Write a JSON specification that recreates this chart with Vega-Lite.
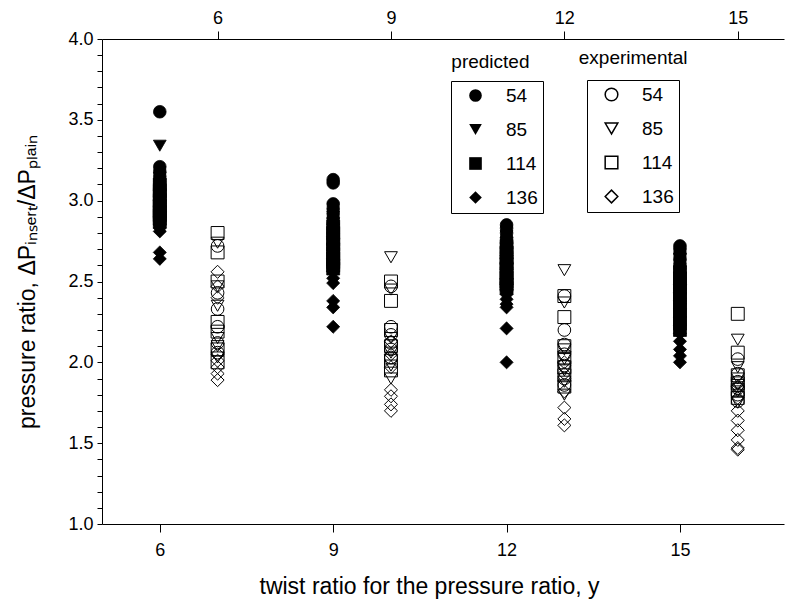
{
  "$schema": "https://vega.github.io/schema/vega-lite/v6.json",
  "autosize": "none",
  "width": 682,
  "height": 485,
  "padding": {"left": 102, "top": 39, "right": 3, "bottom": 80},
  "config": {
    "view": {"stroke": null},
    "font": "Liberation Sans",
    "axis": {"grid": false, "domainColor": "black", "tickColor": "black", "labelColor": "black", "titleColor": "black", "labelFont": "Liberation Sans", "titleFont": "Liberation Sans", "titleFontWeight": "normal", "labelFontSize": 18, "titleFontSize": 23, "domainWidth": 1, "tickWidth": 1},
    "legend": {"labelFont": "Liberation Sans", "labelFontSize": 19, "labelColor": "black"}
  },
  "datasets": {"pts": [
    {"p":6,"k":"pred","D":"54","v":3.55},{"p":6,"k":"pred","D":"54","v":3.21},{"p":6,"k":"pred","D":"54","v":3.18},{"p":6,"k":"pred","D":"54","v":3.15},{"p":6,"k":"pred","D":"54","v":3.12},{"p":6,"k":"pred","D":"54","v":3.10},{"p":6,"k":"pred","D":"54","v":3.08},{"p":6,"k":"pred","D":"54","v":3.06},{"p":6,"k":"pred","D":"54","v":3.04},{"p":6,"k":"pred","D":"54","v":3.02},
    {"p":6,"k":"pred","D":"85","v":3.34},{"p":6,"k":"pred","D":"85","v":3.14},{"p":6,"k":"pred","D":"85","v":3.10},{"p":6,"k":"pred","D":"85","v":3.07},{"p":6,"k":"pred","D":"85","v":3.04},{"p":6,"k":"pred","D":"85","v":3.01},{"p":6,"k":"pred","D":"85","v":2.99},{"p":6,"k":"pred","D":"85","v":2.97},{"p":6,"k":"pred","D":"85","v":2.95},{"p":6,"k":"pred","D":"85","v":2.93},
    {"p":6,"k":"pred","D":"114","v":3.10},{"p":6,"k":"pred","D":"114","v":3.06},{"p":6,"k":"pred","D":"114","v":3.03},{"p":6,"k":"pred","D":"114","v":3.00},{"p":6,"k":"pred","D":"114","v":2.97},{"p":6,"k":"pred","D":"114","v":2.95},{"p":6,"k":"pred","D":"114","v":2.93},{"p":6,"k":"pred","D":"114","v":2.91},{"p":6,"k":"pred","D":"114","v":2.89},{"p":6,"k":"pred","D":"114","v":2.87},
    {"p":6,"k":"pred","D":"136","v":3.00},{"p":6,"k":"pred","D":"136","v":2.96},{"p":6,"k":"pred","D":"136","v":2.93},{"p":6,"k":"pred","D":"136","v":2.90},{"p":6,"k":"pred","D":"136","v":2.88},{"p":6,"k":"pred","D":"136","v":2.85},{"p":6,"k":"pred","D":"136","v":2.83},{"p":6,"k":"pred","D":"136","v":2.81},{"p":6,"k":"pred","D":"136","v":2.68},{"p":6,"k":"pred","D":"136","v":2.64},
    {"p":7,"k":"exp","D":"54","v":2.72},{"p":7,"k":"exp","D":"54","v":2.43},{"p":7,"k":"exp","D":"54","v":2.33},{"p":7,"k":"exp","D":"54","v":2.22},{"p":7,"k":"exp","D":"54","v":2.12},{"p":7,"k":"exp","D":"54","v":2.06},
    {"p":7,"k":"exp","D":"85","v":2.74},{"p":7,"k":"exp","D":"85","v":2.47},{"p":7,"k":"exp","D":"85","v":2.35},{"p":7,"k":"exp","D":"85","v":2.15},{"p":7,"k":"exp","D":"85","v":2.10},{"p":7,"k":"exp","D":"85","v":2.03},
    {"p":7,"k":"exp","D":"114","v":2.80},{"p":7,"k":"exp","D":"114","v":2.68},{"p":7,"k":"exp","D":"114","v":2.50},{"p":7,"k":"exp","D":"114","v":2.25},{"p":7,"k":"exp","D":"114","v":2.19},{"p":7,"k":"exp","D":"114","v":2.08},{"p":7,"k":"exp","D":"114","v":2.00},
    {"p":7,"k":"exp","D":"136","v":2.56},{"p":7,"k":"exp","D":"136","v":2.47},{"p":7,"k":"exp","D":"136","v":2.40},{"p":7,"k":"exp","D":"136","v":2.05},{"p":7,"k":"exp","D":"136","v":2.01},{"p":7,"k":"exp","D":"136","v":1.97},{"p":7,"k":"exp","D":"136","v":1.93},{"p":7,"k":"exp","D":"136","v":1.89},
    {"p":9,"k":"pred","D":"54","v":3.13},{"p":9,"k":"pred","D":"54","v":3.11},{"p":9,"k":"pred","D":"54","v":2.98},{"p":9,"k":"pred","D":"54","v":2.95},{"p":9,"k":"pred","D":"54","v":2.92},{"p":9,"k":"pred","D":"54","v":2.89},{"p":9,"k":"pred","D":"54","v":2.86},{"p":9,"k":"pred","D":"54","v":2.83},{"p":9,"k":"pred","D":"54","v":2.80},{"p":9,"k":"pred","D":"54","v":2.77},
    {"p":9,"k":"pred","D":"85","v":2.90},{"p":9,"k":"pred","D":"85","v":2.86},{"p":9,"k":"pred","D":"85","v":2.82},{"p":9,"k":"pred","D":"85","v":2.79},{"p":9,"k":"pred","D":"85","v":2.76},{"p":9,"k":"pred","D":"85","v":2.73},{"p":9,"k":"pred","D":"85","v":2.70},{"p":9,"k":"pred","D":"85","v":2.68},{"p":9,"k":"pred","D":"85","v":2.66},{"p":9,"k":"pred","D":"85","v":2.64},
    {"p":9,"k":"pred","D":"114","v":2.84},{"p":9,"k":"pred","D":"114","v":2.80},{"p":9,"k":"pred","D":"114","v":2.76},{"p":9,"k":"pred","D":"114","v":2.73},{"p":9,"k":"pred","D":"114","v":2.70},{"p":9,"k":"pred","D":"114","v":2.67},{"p":9,"k":"pred","D":"114","v":2.64},{"p":9,"k":"pred","D":"114","v":2.62},{"p":9,"k":"pred","D":"114","v":2.60},{"p":9,"k":"pred","D":"114","v":2.58},
    {"p":9,"k":"pred","D":"136","v":2.78},{"p":9,"k":"pred","D":"136","v":2.73},{"p":9,"k":"pred","D":"136","v":2.68},{"p":9,"k":"pred","D":"136","v":2.64},{"p":9,"k":"pred","D":"136","v":2.60},{"p":9,"k":"pred","D":"136","v":2.56},{"p":9,"k":"pred","D":"136","v":2.52},{"p":9,"k":"pred","D":"136","v":2.49},{"p":9,"k":"pred","D":"136","v":2.38},{"p":9,"k":"pred","D":"136","v":2.34},{"p":9,"k":"pred","D":"136","v":2.22},
    {"p":10,"k":"exp","D":"54","v":2.47},{"p":10,"k":"exp","D":"54","v":2.22},{"p":10,"k":"exp","D":"54","v":2.17},{"p":10,"k":"exp","D":"54","v":2.12},{"p":10,"k":"exp","D":"54","v":2.08},{"p":10,"k":"exp","D":"54","v":2.03},
    {"p":10,"k":"exp","D":"85","v":2.65},{"p":10,"k":"exp","D":"85","v":2.45},{"p":10,"k":"exp","D":"85","v":2.15},{"p":10,"k":"exp","D":"85","v":2.06},{"p":10,"k":"exp","D":"85","v":1.98},{"p":10,"k":"exp","D":"85","v":1.90},
    {"p":10,"k":"exp","D":"114","v":2.50},{"p":10,"k":"exp","D":"114","v":2.38},{"p":10,"k":"exp","D":"114","v":2.20},{"p":10,"k":"exp","D":"114","v":2.10},{"p":10,"k":"exp","D":"114","v":2.01},{"p":10,"k":"exp","D":"114","v":1.95},
    {"p":10,"k":"exp","D":"136","v":2.13},{"p":10,"k":"exp","D":"136","v":2.05},{"p":10,"k":"exp","D":"136","v":1.97},{"p":10,"k":"exp","D":"136","v":1.83},{"p":10,"k":"exp","D":"136","v":1.79},{"p":10,"k":"exp","D":"136","v":1.74},{"p":10,"k":"exp","D":"136","v":1.70},
    {"p":12,"k":"pred","D":"54","v":2.85},{"p":12,"k":"pred","D":"54","v":2.83},{"p":12,"k":"pred","D":"54","v":2.80},{"p":12,"k":"pred","D":"54","v":2.77},{"p":12,"k":"pred","D":"54","v":2.74},{"p":12,"k":"pred","D":"54","v":2.71},{"p":12,"k":"pred","D":"54","v":2.68},{"p":12,"k":"pred","D":"54","v":2.66},{"p":12,"k":"pred","D":"54","v":2.64},{"p":12,"k":"pred","D":"54","v":2.62},
    {"p":12,"k":"pred","D":"85","v":2.78},{"p":12,"k":"pred","D":"85","v":2.74},{"p":12,"k":"pred","D":"85","v":2.70},{"p":12,"k":"pred","D":"85","v":2.67},{"p":12,"k":"pred","D":"85","v":2.64},{"p":12,"k":"pred","D":"85","v":2.61},{"p":12,"k":"pred","D":"85","v":2.58},{"p":12,"k":"pred","D":"85","v":2.56},{"p":12,"k":"pred","D":"85","v":2.54},{"p":12,"k":"pred","D":"85","v":2.52},
    {"p":12,"k":"pred","D":"114","v":2.72},{"p":12,"k":"pred","D":"114","v":2.68},{"p":12,"k":"pred","D":"114","v":2.64},{"p":12,"k":"pred","D":"114","v":2.61},{"p":12,"k":"pred","D":"114","v":2.58},{"p":12,"k":"pred","D":"114","v":2.55},{"p":12,"k":"pred","D":"114","v":2.52},{"p":12,"k":"pred","D":"114","v":2.50},{"p":12,"k":"pred","D":"114","v":2.48},{"p":12,"k":"pred","D":"114","v":2.46},
    {"p":12,"k":"pred","D":"136","v":2.66},{"p":12,"k":"pred","D":"136","v":2.61},{"p":12,"k":"pred","D":"136","v":2.56},{"p":12,"k":"pred","D":"136","v":2.52},{"p":12,"k":"pred","D":"136","v":2.48},{"p":12,"k":"pred","D":"136","v":2.45},{"p":12,"k":"pred","D":"136","v":2.42},{"p":12,"k":"pred","D":"136","v":2.39},{"p":12,"k":"pred","D":"136","v":2.36},{"p":12,"k":"pred","D":"136","v":2.34},{"p":12,"k":"pred","D":"136","v":2.21},{"p":12,"k":"pred","D":"136","v":2.00},
    {"p":13,"k":"exp","D":"54","v":2.41},{"p":13,"k":"exp","D":"54","v":2.20},{"p":13,"k":"exp","D":"54","v":2.11},{"p":13,"k":"exp","D":"54","v":2.05},{"p":13,"k":"exp","D":"54","v":1.98},{"p":13,"k":"exp","D":"54","v":1.90},{"p":13,"k":"exp","D":"54","v":1.86},
    {"p":13,"k":"exp","D":"85","v":2.57},{"p":13,"k":"exp","D":"85","v":2.37},{"p":13,"k":"exp","D":"85","v":2.08},{"p":13,"k":"exp","D":"85","v":2.02},{"p":13,"k":"exp","D":"85","v":1.95},{"p":13,"k":"exp","D":"85","v":1.88},{"p":13,"k":"exp","D":"85","v":1.80},
    {"p":13,"k":"exp","D":"114","v":2.41},{"p":13,"k":"exp","D":"114","v":2.28},{"p":13,"k":"exp","D":"114","v":2.10},{"p":13,"k":"exp","D":"114","v":2.03},{"p":13,"k":"exp","D":"114","v":1.97},{"p":13,"k":"exp","D":"114","v":1.92},{"p":13,"k":"exp","D":"114","v":1.85},
    {"p":13,"k":"exp","D":"136","v":2.00},{"p":13,"k":"exp","D":"136","v":1.93},{"p":13,"k":"exp","D":"136","v":1.82},{"p":13,"k":"exp","D":"136","v":1.72},{"p":13,"k":"exp","D":"136","v":1.65},{"p":13,"k":"exp","D":"136","v":1.61},
    {"p":15,"k":"pred","D":"54","v":2.72},{"p":15,"k":"pred","D":"54","v":2.70},{"p":15,"k":"pred","D":"54","v":2.67},{"p":15,"k":"pred","D":"54","v":2.64},{"p":15,"k":"pred","D":"54","v":2.61},{"p":15,"k":"pred","D":"54","v":2.58},{"p":15,"k":"pred","D":"54","v":2.55},{"p":15,"k":"pred","D":"54","v":2.52},{"p":15,"k":"pred","D":"54","v":2.49},{"p":15,"k":"pred","D":"54","v":2.46},
    {"p":15,"k":"pred","D":"85","v":2.64},{"p":15,"k":"pred","D":"85","v":2.60},{"p":15,"k":"pred","D":"85","v":2.56},{"p":15,"k":"pred","D":"85","v":2.52},{"p":15,"k":"pred","D":"85","v":2.48},{"p":15,"k":"pred","D":"85","v":2.45},{"p":15,"k":"pred","D":"85","v":2.42},{"p":15,"k":"pred","D":"85","v":2.39},{"p":15,"k":"pred","D":"85","v":2.36},{"p":15,"k":"pred","D":"85","v":2.33},
    {"p":15,"k":"pred","D":"114","v":2.56},{"p":15,"k":"pred","D":"114","v":2.52},{"p":15,"k":"pred","D":"114","v":2.48},{"p":15,"k":"pred","D":"114","v":2.44},{"p":15,"k":"pred","D":"114","v":2.40},{"p":15,"k":"pred","D":"114","v":2.36},{"p":15,"k":"pred","D":"114","v":2.32},{"p":15,"k":"pred","D":"114","v":2.28},{"p":15,"k":"pred","D":"114","v":2.24},{"p":15,"k":"pred","D":"114","v":2.20},
    {"p":15,"k":"pred","D":"136","v":2.48},{"p":15,"k":"pred","D":"136","v":2.43},{"p":15,"k":"pred","D":"136","v":2.38},{"p":15,"k":"pred","D":"136","v":2.33},{"p":15,"k":"pred","D":"136","v":2.28},{"p":15,"k":"pred","D":"136","v":2.23},{"p":15,"k":"pred","D":"136","v":2.18},{"p":15,"k":"pred","D":"136","v":2.13},{"p":15,"k":"pred","D":"136","v":2.08},{"p":15,"k":"pred","D":"136","v":2.04},{"p":15,"k":"pred","D":"136","v":2.00},
    {"p":16,"k":"exp","D":"54","v":2.02},{"p":16,"k":"exp","D":"54","v":1.93},{"p":16,"k":"exp","D":"54","v":1.88},{"p":16,"k":"exp","D":"54","v":1.84},{"p":16,"k":"exp","D":"54","v":1.80},{"p":16,"k":"exp","D":"54","v":1.76},
    {"p":16,"k":"exp","D":"85","v":2.14},{"p":16,"k":"exp","D":"85","v":1.97},{"p":16,"k":"exp","D":"85","v":1.90},{"p":16,"k":"exp","D":"85","v":1.86},{"p":16,"k":"exp","D":"85","v":1.82},{"p":16,"k":"exp","D":"85","v":1.75},
    {"p":16,"k":"exp","D":"114","v":2.30},{"p":16,"k":"exp","D":"114","v":2.06},{"p":16,"k":"exp","D":"114","v":1.92},{"p":16,"k":"exp","D":"114","v":1.87},{"p":16,"k":"exp","D":"114","v":1.83},{"p":16,"k":"exp","D":"114","v":1.78},
    {"p":16,"k":"exp","D":"136","v":1.85},{"p":16,"k":"exp","D":"136","v":1.78},{"p":16,"k":"exp","D":"136","v":1.70},{"p":16,"k":"exp","D":"136","v":1.64},{"p":16,"k":"exp","D":"136","v":1.58},{"p":16,"k":"exp","D":"136","v":1.52},{"p":16,"k":"exp","D":"136","v":1.47},{"p":16,"k":"exp","D":"136","v":1.46}
  ],
  "labels": [{"t": "predicted", "lx": 11.72, "ly": 3.857}, {"t": "experimental", "lx": 14.19, "ly": 3.88}]},
  "resolve": {"scale": {"shape": "independent"}, "legend": {"shape": "independent"}, "axis": {"x": "independent", "y": "independent"}},
  "layer": [
    {
      "data": {"name": "pts"},
      "transform": [{"filter": "datum.k == 'pred'"}],
      "mark": {"type": "point", "filled": true, "color": "black", "opacity": 1, "stroke": "black", "strokeWidth": 0.8},
      "encoding": {
        "x": {"field": "p", "type": "quantitative", "scale": {"domain": [5, 16.8], "nice": false, "zero": false},
              "axis": {"orient": "bottom", "values": [6, 9, 12, 15], "tickSize": 8, "labelPadding": 9, "titlePadding": 16, "title": "twist ratio for the pressure ratio, y", "titleX": 327}},
        "y": {"field": "v", "type": "quantitative", "scale": {"domain": [1, 4], "nice": false, "zero": false},
              "axis": {"orient": "left", "values": [1.0,1.1,1.2,1.3,1.4,1.5,1.6,1.7,1.8,1.9,2.0,2.1,2.2,2.3,2.4,2.5,2.6,2.7,2.8,2.9,3.0,3.1,3.2,3.3,3.4,3.5,3.6,3.7,3.8,3.9,4.0],
                       "labelExpr": "abs(datum.value*2 - round(datum.value*2)) < 0.001 ? format(datum.value, '.1f') : ''", "labelOverlap": false, "labelBound": false, "labelFlush": false, "tickSize": 5, "labelPadding": 4, "titlePadding": 28,
                       "title": "pressure ratio, ΔPᵢₙₛₑᵣₜ/ΔPₚₗₐᵢₙ"}},
        "shape": {"field": "D", "type": "nominal", "scale": {"domain": ["54", "85", "114", "136"], "range": ["circle", "triangle-down", "square", "diamond"]},
                  "legend": {"title": null, "orient": "none", "legendX": 349, "legendY": 42, "strokeColor": "black", "padding": 5, "rowPadding": 14, "symbolSize": 160, "symbolOffset": 10, "labelOffset": 21, "symbolFillColor": "black", "symbolStrokeColor": "black"}},
        "size": {"field": "D", "type": "ordinal", "scale": {"domain": ["54", "85", "114", "136"], "range": [160, 170, 120, 230]}, "legend": null}
      }
    },
    {
      "data": {"name": "pts"},
      "transform": [{"filter": "datum.k == 'exp'"}],
      "mark": {"type": "point", "filled": false, "color": "black", "opacity": 1, "strokeWidth": 1},
      "encoding": {
        "x": {"field": "p", "type": "quantitative", "scale": {"domain": [5, 16.8], "nice": false, "zero": false},
              "axis": {"orient": "top", "values": [7, 10, 13, 16], "labelExpr": "format(datum.value - 1, 'd')", "tickSize": 8, "labelPadding": 4, "title": null}},
        "y": {"field": "v", "type": "quantitative", "scale": {"domain": [1, 4], "nice": false, "zero": false}, "axis": null},
        "shape": {"field": "D", "type": "nominal", "scale": {"domain": ["54", "85", "114", "136"], "range": ["circle", "triangle-down", "square", "diamond"]},
                  "legend": {"title": null, "orient": "none", "legendX": 485, "legendY": 41, "strokeColor": "black", "padding": 5, "rowPadding": 14, "symbolSize": 160, "symbolOffset": 10, "labelOffset": 21, "symbolFillColor": "white", "symbolStrokeColor": "black"}},
        "size": {"field": "D", "type": "ordinal", "scale": {"domain": ["54", "85", "114", "136"], "range": [160, 170, 120, 230]}, "legend": null}
      }
    },
    {
      "data": {"name": "labels"},
      "mark": {"type": "text", "font": "Liberation Sans", "fontSize": 19, "color": "black"},
      "encoding": {
        "x": {"field": "lx", "type": "quantitative", "axis": null},
        "y": {"field": "ly", "type": "quantitative", "axis": null},
        "text": {"field": "t"}
      }
    }
  ]
}
